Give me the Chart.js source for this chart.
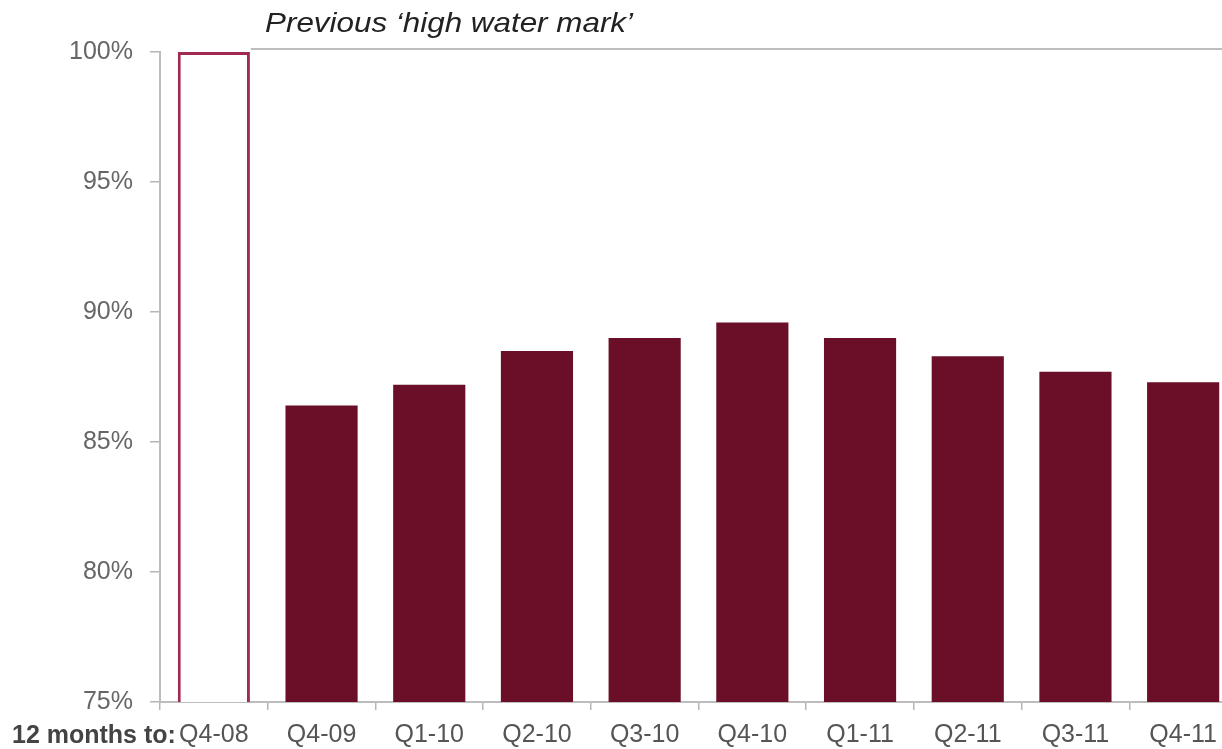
<!DOCTYPE html>
<html>
<head>
<meta charset="utf-8">
<script src="https://cdn.jsdelivr.net/npm/chart.js@4"></script>
<style>
  html, body { margin: 0; padding: 0; background: #fff; overflow: hidden; }
  #wrap { position: absolute; left: 0; top: 0; width: 1240px; height: 749px; }
</style>
</head>
<body>
<div id="wrap"><canvas id="c" width="1240" height="749"></canvas></div>
<script>
const categories = ['Q4-08', 'Q4-09', 'Q1-10', 'Q2-10', 'Q3-10', 'Q4-10', 'Q1-11', 'Q2-11', 'Q3-11', 'Q4-11'];
const values = [100, 86.4, 87.2, 88.5, 89.0, 89.6, 89.0, 88.3, 87.7, 87.3];
const yTicks = [75, 80, 85, 90, 95, 100];
const annotationText = 'Previous \u2018high water mark\u2019';
const axisPrefix = '12 months to:';

const maroon = '#6a0f27';
const outline = '#a02a52';

const extras = {
  id: 'extras',
  afterDraw(chart) {
    const ctx = chart.ctx;
    const y = chart.scales.y;
    const meta = chart.getDatasetMeta(0);
    const first = meta.data[0];
    const yHigh = y.getPixelForValue(100) - 3;
    ctx.save();
    ctx.strokeStyle = '#bdbdbd';
    ctx.lineWidth = 2;
    ctx.beginPath();
    ctx.moveTo(first.x + first.width / 2 + 1, yHigh);
    ctx.lineTo(chart.width, yHigh);
    ctx.stroke();
    ctx.fillStyle = '#222';
    ctx.font = 'italic 28px "Liberation Sans", Arial, sans-serif';
    ctx.textBaseline = 'alphabetic';
    ctx.textAlign = 'left';
    const w = ctx.measureText(annotationText).width;
    ctx.translate(265, 32);
    ctx.scale(368 / w, 1);
    ctx.fillText(annotationText, 0, 0);
    ctx.restore();
    ctx.save();
    ctx.fillStyle = '#444';
    ctx.font = 'bold 25px "Liberation Sans", Arial, sans-serif';
    ctx.textBaseline = 'alphabetic';
    ctx.textAlign = 'left';
    ctx.fillText(axisPrefix, 12, 743);
    ctx.restore();
  }
};

new Chart(document.getElementById('c'), {
  type: 'bar',
  data: {
    labels: categories,
    datasets: [{
      data: values,
      backgroundColor: values.map((v, i) => i === 0 ? '#ffffff' : maroon),
      borderColor: values.map((v, i) => i === 0 ? outline : maroon),
      borderWidth: values.map((v, i) => i === 0 ? 3 : 0),
      borderSkipped: false,
      categoryPercentage: 1,
      barPercentage: 0.67
    }]
  },
  options: {
    responsive: false,
    animation: false,
    layout: { padding: { top: 52, left: 0, right: 3, bottom: 0 } },
    plugins: { legend: { display: false }, tooltip: { enabled: false } },
    scales: {
      y: {
        min: 75, max: 100,
        afterFit: s => { s.width = 160; },
        afterBuildTicks: s => { s.ticks = yTicks.map(v => ({ value: v })); },
        ticks: {
          padding: 17,
          color: '#666',
          font: { family: '"Liberation Sans", Arial, sans-serif', size: 25 },
          callback: v => v + '%'
        },
        grid: { drawOnChartArea: false, tickLength: 10, color: '#b5b5b5', lineWidth: 1.5 },
        border: { display: true, color: '#bdbdbd', width: 2 }
      },
      x: {
        offset: true,
        afterFit: s => { s.height = 47; },
        ticks: {
          padding: 10,
          color: '#555',
          maxRotation: 0,
          autoSkip: false,
          font: { family: '"Liberation Sans", Arial, sans-serif', size: 25 }
        },
        grid: { offset: true, drawOnChartArea: false, tickLength: 8, color: '#b5b5b5', lineWidth: 1.5 },
        border: { display: true, color: '#bdbdbd', width: 2 }
      }
    }
  },
  plugins: [extras]
});
</script>
</body>
</html>
